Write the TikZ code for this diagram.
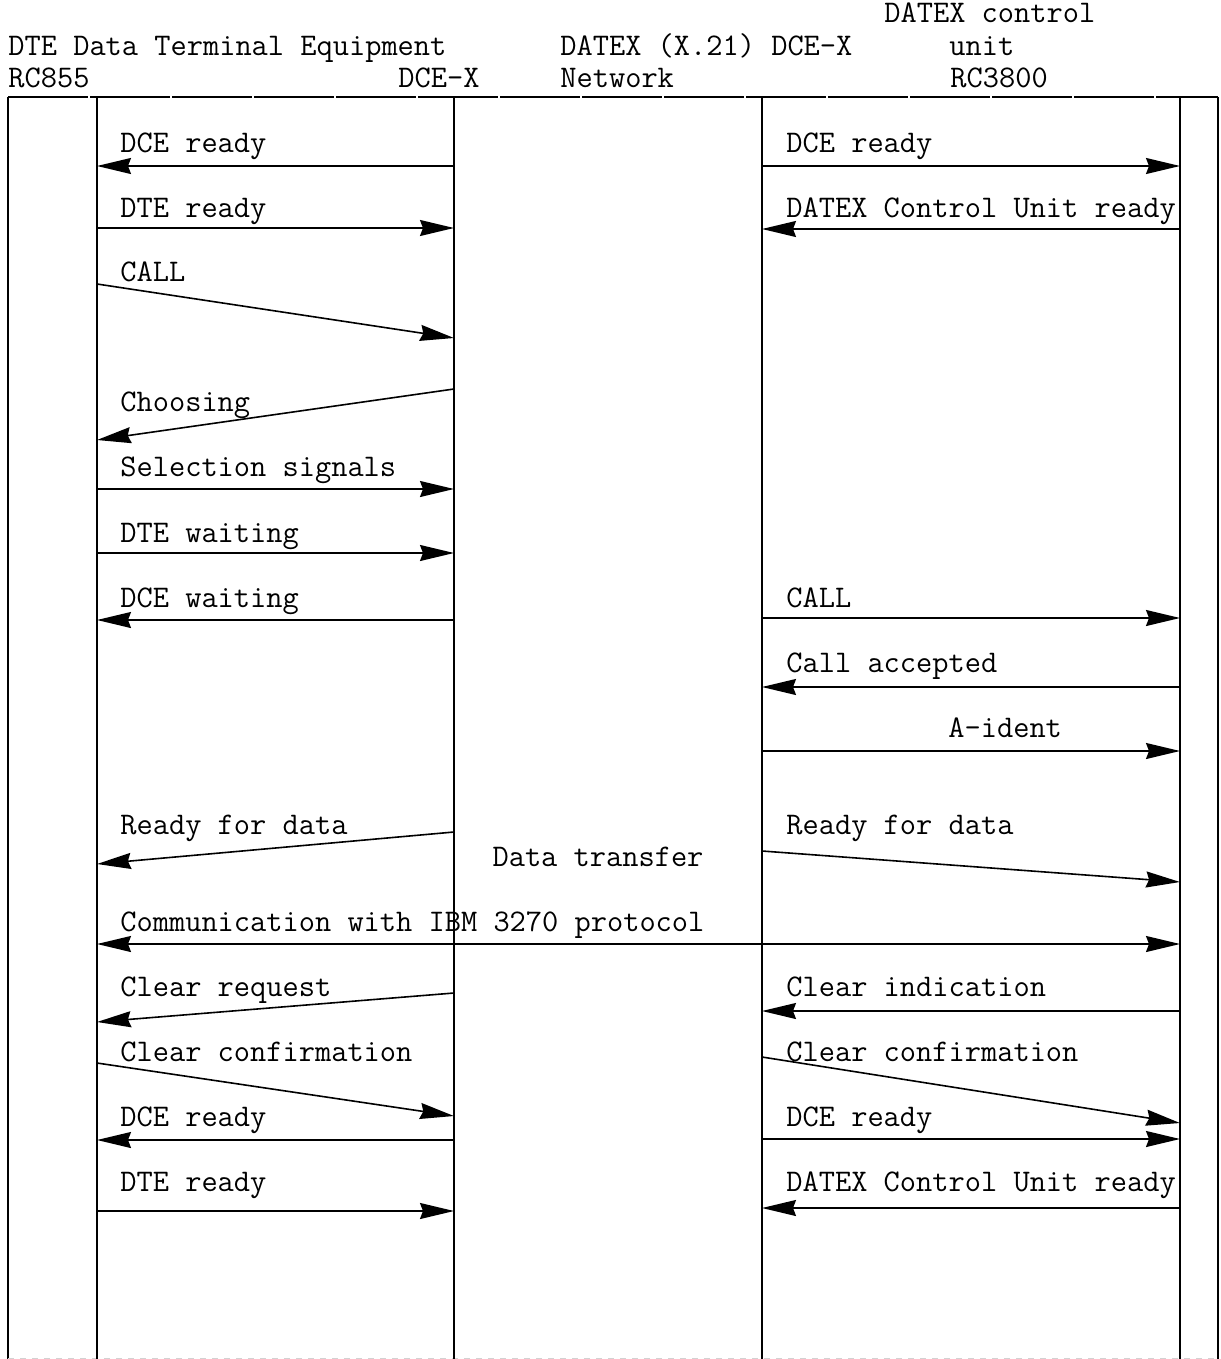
\documentclass[tikz,border=0pt]{standalone}
\usetikzlibrary{arrows.meta}
\tikzset{
  head/.tip={Stealth[length=17pt,width=8pt,inset=1.5pt]},
  msg/.style={-head, line width=0.8pt},
  both/.style={head-head, line width=0.8pt},
  life/.style={line width=0.9pt},
  lbl/.style={anchor=base west, inner sep=0pt, font=\ttfamily\fontsize{15.75}{18}\selectfont}
}
\begin{document}
\begin{tikzpicture}[x=0.5pt,y=-0.5pt]
    \useasboundingbox (0,0) rectangle (1220,1359);
    % header
    \node[lbl] (hdte)   at (8,56)    {DTE Data Terminal Equipment};
    \node[lbl] (hrc855) at (8,88)    {RC855};
    \node[lbl] (hdcel)  at (398,88)  {DCE-X};
    \node[lbl] (hnet)   at (560,56)  {DATEX (X.21) DCE-X};
    \node[lbl] (hnet2)  at (560,88)  {Network};
    \node[lbl] (hdcu)   at (884,23)  {DATEX control};
    \node[lbl] (hdcu2)  at (949,56)  {unit};
    \node[lbl] (hdcu3)  at (950,88)  {RC3800};
    % frame and life lines
    \coordinate (tl) at (8,97);
    \coordinate (tr) at (1218,97);
    \coordinate (bl) at (8,1359);
    \coordinate (br) at (1218,1359);
    \draw[line width=0.9pt, dash pattern=on 40pt off 1pt] (tl) -- (tr);
    \draw[life] (tl) -- (bl);
    \draw[life] (tr) -- (br);
    \draw[gray!35, dashed, line width=0.6pt] (bl) -- (br);
    \foreach \n/\x in {dte/97, dcel/454, dcer/762, dcu/1180} {
        \coordinate (\n-top) at (\x,97);
        \coordinate (\n-bot) at (\x,1359);
        \draw[life] (\n-top) -- (\n-bot);
    }
    % messages: name / start / end / label position / text
    \foreach \n/\xa/\ya/\xb/\yb/\xt/\yt/\txt in {
        a1/454/166/97/166/120/153/DCE ready,
        a2/97/228/454/228/120/217/DTE ready,
        a3/97/284/454/338/120/281/CALL,
        a4/454/389/97/440/120/411/Choosing,
        a5/97/489/454/489/120/476/Selection signals,
        a6/97/553/454/553/120/542/DTE waiting,
        a7/454/620/97/620/120/607/DCE waiting,
        a8/454/832/97/864/120/834/Ready for data,
        a9/454/993/97/1022/120/996/Clear request,
        a10/97/1063/454/1116/120/1061/Clear confirmation,
        a11/454/1140/97/1140/120/1126/DCE ready,
        a12/97/1211/454/1211/120/1191/DTE ready,
        b1/762/166/1180/166/786/153/DCE ready,
        b2/1180/229/762/229/786/217/DATEX Control Unit ready,
        b3/762/618/1180/618/786/607/CALL,
        b4/1180/687/762/687/786/672/Call accepted,
        b5/762/751/1180/751/948/737/A-ident,
        b6/762/851/1180/882/786/834/Ready for data,
        b7/1180/1011/762/1011/786/996/Clear indication,
        b8/762/1057/1180/1123/786/1061/Clear confirmation,
        b9/762/1139/1180/1139/786/1126/DCE ready,
        b10/1180/1208/762/1208/786/1191/DATEX Control Unit ready} {
        \coordinate (\n-s) at (\xa,\ya);
        \coordinate (\n-e) at (\xb,\yb);
        \draw[msg] (\n-s) -- (\n-e);
        \node[lbl] (\n-t) at (\xt,\yt) {\txt};
    }
    % data transfer
    \node[lbl, anchor=base] (xfer) at (598,866) {Data transfer};
    \coordinate (ibm-s) at (97,944);
    \coordinate (ibm-e) at (1180,944);
    \draw[both] (ibm-s) -- (ibm-e);
    \node[lbl] (ibm) at (120,931) {Communication with IBM 3270 protocol};
\end{tikzpicture}
\end{document}
